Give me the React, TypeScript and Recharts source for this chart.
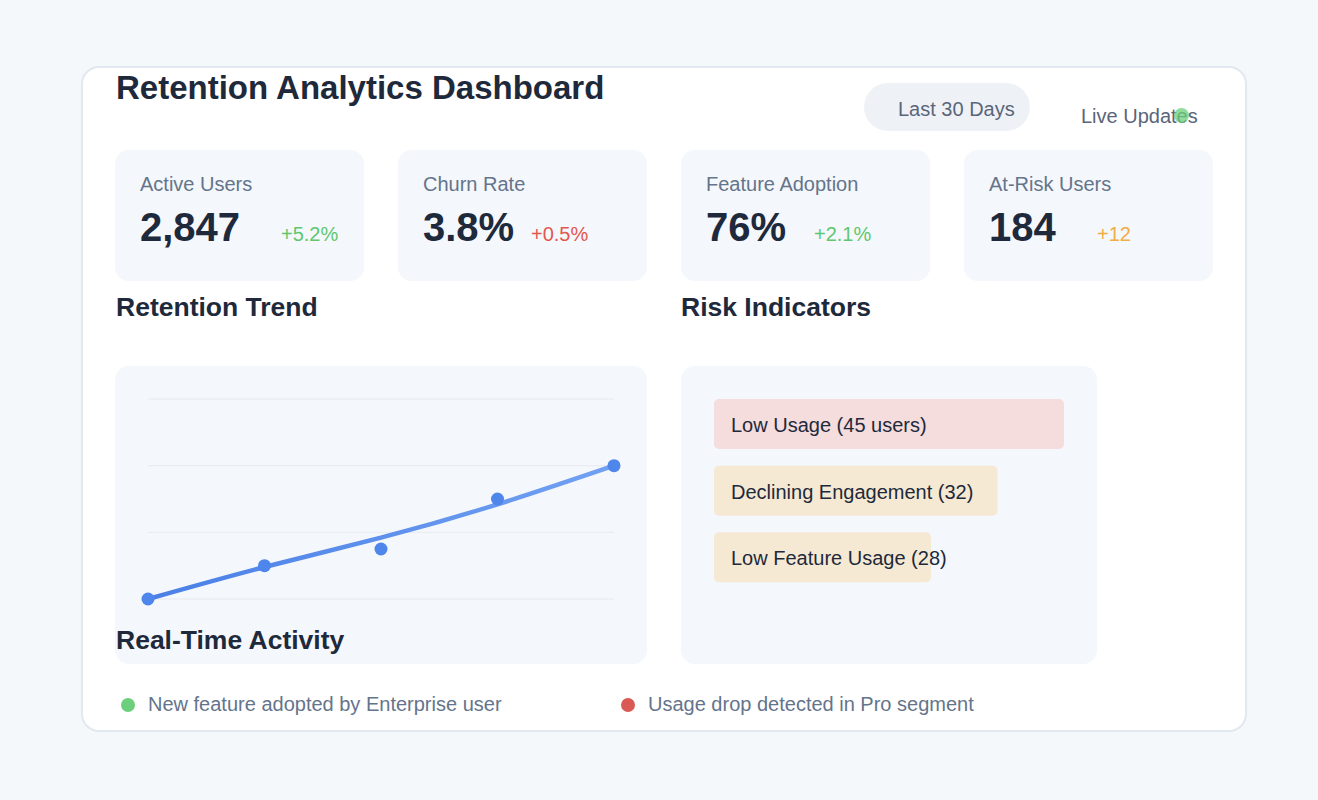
import {
  Bar,
  BarChart,
  CartesianGrid,
  Cell,
  LabelList,
  Line,
  LineChart,
  XAxis,
  YAxis,
} from "recharts";

// Retention dashboard: four KPI tiles, a retention trend (smoothed trend line
// plus the weekly readings as dots) and a risk-indicator bar list.

const FONT = '"Liberation Sans", Arial, Helvetica, sans-serif';

// KPI tiles
const KPI_LABELS = ["Active Users", "Churn Rate", "Feature Adoption", "At-Risk Users"];
const KPI_VALUES = ["2,847", "3.8%", "76%", "184"];
const KPI_CHANGES = ["+5.2%", "+0.5%", "+2.1%", "+12"];
const KPI_TONES = ["up", "down", "up", "warn"];

// Retention trend
const TREND_PERIODS = ["W1", "W2", "W3", "W4", "W5"];
const TREND_ACTUAL = [70, 72.5, 73.75, 77.5, 80];
const TREND_SMOOTH = [70, 72.4, 74.6, 77.1, 80];
const TREND_TICKS = [70, 75, 80, 85];

// Risk indicators
const RISK_LABELS = ["Low Usage (45 users)", "Declining Engagement (32)", "Low Feature Usage (28)"];
const RISK_SCORES = [100, 81, 62];
const RISK_LEVELS = ["high", "medium", "medium"];

// Activity feed
const FEED_TEXT = ["New feature adopted by Enterprise user", "Usage drop detected in Pro segment"];
const FEED_KIND = ["good", "bad"];

const TONE_COLOR: Record<string, string> = {
  up: "#5fc76f",
  down: "#e2574f",
  warn: "#f0ac45",
  good: "#6ccf7b",
  bad: "#d95a55",
};
const RISK_FILL: Record<string, string> = { high: "#f5dcdd", medium: "#f5e9d4" };

// tile layout (px, page coordinates)
const TILE_LEFT = [115, 398, 681, 964];
const CHANGE_LEFT = [166, 133, 133, 133];
const FEED_LEFT = [121, 621];

const trendData = TREND_PERIODS.map((p, i) => ({
  period: p,
  actual: TREND_ACTUAL[i],
  trend: TREND_SMOOTH[i],
}));
const riskData = RISK_LABELS.map((l, i) => ({ label: l, score: RISK_SCORES[i], level: RISK_LEVELS[i] }));

const abs = (left: number, top: number): React.CSSProperties => ({ position: "absolute", left, top });

function RiskLabel(props: any) {
  const { x, y, height, value } = props;
  return (
    <text
      x={Number(x) + 17}
      y={Number(y) + Number(height) / 2 + 1}
      dominantBaseline="central"
      fontSize={20}
      fontFamily={FONT}
      fill="#1e293b"
    >
      {value}
    </text>
  );
}

export default function App() {
  return (
    <div
      style={{
        position: "absolute",
        left: 0,
        top: 0,
        width: 1318,
        height: 800,
        background: "#f5f8fb",
        fontFamily: FONT,
        overflow: "hidden",
      }}
    >
      {/* main card */}
      <div
        style={{
          ...abs(81, 66),
          width: 1166,
          height: 666,
          boxSizing: "border-box",
          background: "#fff",
          border: "2px solid #e2e8f0",
          borderRadius: 18,
        }}
      />

      <div style={{ ...abs(116, 71), fontSize: 33, lineHeight: 1, fontWeight: 700, color: "#1e293b" }}>
        Retention Analytics Dashboard
      </div>

      <div
        style={{
          ...abs(864, 83),
          width: 166,
          height: 48,
          borderRadius: 24,
          background: "#eef2f7",
        }}
      />
      <div style={{ ...abs(898, 99), fontSize: 20, lineHeight: 1, color: "#5b6579" }}>Last 30 Days</div>

      <div style={{ ...abs(1081, 106), fontSize: 20, lineHeight: 1, color: "#5b6579" }}>Live Updates</div>
      <div
        style={{
          ...abs(1173.5, 108),
          width: 15,
          height: 15,
          borderRadius: "50%",
          background: "#6ccf7b",
          opacity: 0.75,
        }}
      />

      {/* KPI tiles */}
      {KPI_LABELS.map((label, i) => (
        <div
          key={label}
          style={{
            ...abs(TILE_LEFT[i], 150),
            width: 249,
            height: 131,
            borderRadius: 14,
            background: "#f4f7fb",
          }}
        >
          <div style={{ ...abs(25, 24), fontSize: 20, lineHeight: 1, color: "#64748b", whiteSpace: "nowrap" }}>
            {label}
          </div>
          <div style={{ ...abs(25, 57), fontSize: 40, lineHeight: 1, fontWeight: 700, color: "#1e293b" }}>
            {KPI_VALUES[i]}
          </div>
          <div style={{ ...abs(CHANGE_LEFT[i], 74), fontSize: 20, lineHeight: 1, color: TONE_COLOR[KPI_TONES[i]] }}>
            {KPI_CHANGES[i]}
          </div>
        </div>
      ))}

      <div style={{ ...abs(116, 294), fontSize: 26.5, lineHeight: 1, fontWeight: 700, color: "#1e293b" }}>
        Retention Trend
      </div>
      <div style={{ ...abs(681, 294), fontSize: 26.5, lineHeight: 1, fontWeight: 700, color: "#1e293b" }}>
        Risk Indicators
      </div>

      {/* trend panel */}
      <div style={{ ...abs(115, 366), width: 532, height: 298, borderRadius: 14, background: "#f4f7fb" }}>
        <LineChart width={532} height={298} data={trendData} margin={{ top: 33, right: 33, bottom: 65, left: 33 }}>
          <defs>
            <linearGradient id="trendStroke" x1="0" y1="0" x2="1" y2="0">
              <stop offset="0%" stopColor="#4a7fe6" />
              <stop offset="100%" stopColor="#72a1f3" />
            </linearGradient>
          </defs>
          <CartesianGrid vertical={false} stroke="#e6ebf1" />
          <XAxis dataKey="period" hide />
          <YAxis hide domain={[70, 85]} ticks={TREND_TICKS} />
          <Line
            type="natural"
            dataKey="trend"
            stroke="url(#trendStroke)"
            strokeWidth={4.5}
            dot={false}
            activeDot={false}
            isAnimationActive={false}
          />
          <Line
            type="linear"
            dataKey="actual"
            stroke="none"
            dot={{ r: 6.5, fill: "#4f86ec", stroke: "none" }}
            activeDot={false}
            isAnimationActive={false}
          />
        </LineChart>
      </div>
      <div style={{ ...abs(116, 627), fontSize: 26.5, lineHeight: 1, fontWeight: 700, color: "#1e293b" }}>
        Real-Time Activity
      </div>

      {/* risk panel */}
      <div style={{ ...abs(681, 366), width: 416, height: 298, borderRadius: 14, background: "#f4f7fb" }}>
        <BarChart
          layout="vertical"
          width={416}
          height={298}
          data={riskData}
          margin={{ top: 25, right: 33, bottom: 73, left: 33 }}
        >
          <XAxis type="number" domain={[0, 100]} hide />
          <YAxis type="category" dataKey="label" hide />
          <Bar dataKey="score" barSize={50} radius={5} isAnimationActive={false}>
            {riskData.map((d) => (
              <Cell key={d.label} fill={RISK_FILL[d.level]} />
            ))}
            <LabelList dataKey="label" content={RiskLabel} />
          </Bar>
        </BarChart>
      </div>

      {/* activity feed */}
      {FEED_TEXT.map((t, i) => (
        <div key={t}>
          <div
            style={{
              ...abs(FEED_LEFT[i], 698),
              width: 14,
              height: 14,
              borderRadius: "50%",
              background: TONE_COLOR[FEED_KIND[i]],
            }}
          />
          <div style={{ ...abs(FEED_LEFT[i] + 27, 694), fontSize: 20, lineHeight: 1, color: "#64748b" }}>{t}</div>
        </div>
      ))}
    </div>
  );
}
